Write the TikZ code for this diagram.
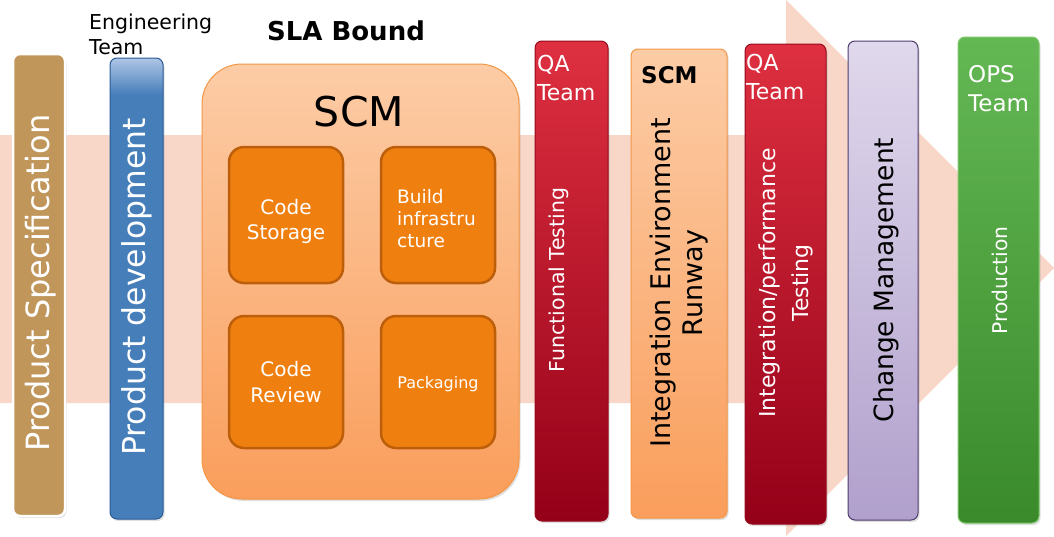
\documentclass[tikz,border=0pt]{standalone}
\usepackage{fontspec}
\setmainfont{DejaVu Sans}
\usepackage{xcolor}
\usepackage{tikz}
\usetikzlibrary{shadows,positioning}
\definecolor{flowpeach}{RGB}{248,214,200}
\definecolor{spectan}{RGB}{192,150,90}
\definecolor{devblue}{RGB}{70,126,186}
\definecolor{devlight}{RGB}{175,198,230}
\definecolor{devline}{RGB}{40,90,150}
\definecolor{scmtop}{RGB}{252,204,166}
\definecolor{scmbot}{RGB}{250,158,92}
\definecolor{scmline}{RGB}{244,150,70}
\definecolor{tilefill}{RGB}{239,128,16}
\definecolor{tileline}{RGB}{188,94,10}
\definecolor{qatop}{RGB}{222,48,64}
\definecolor{qabot}{RGB}{148,0,24}
\definecolor{qaline}{RGB}{150,10,30}
\definecolor{chgtop}{RGB}{224,216,236}
\definecolor{chgbot}{RGB}{176,160,204}
\definecolor{chgline}{RGB}{80,60,110}
\definecolor{opstop}{RGB}{100,184,84}
\definecolor{opsbot}{RGB}{58,138,44}
\definecolor{opsline}{RGB}{125,200,105}
\pgfdeclareverticalshading{devshade}{100bp}{color(0bp)=(devblue); color(25bp)=(devblue); color(71bp)=(devblue); color(75bp)=(devlight); color(100bp)=(devlight)}

\begin{document}
\begin{tikzpicture}[x=1pt,y=-1pt,
    stage/.style={rounded corners=7pt, draw, line width=1pt, inner sep=0pt, drop shadow={opacity=0.25,shadow xshift=1.5pt,shadow yshift=-2pt}},
    tile/.style={rounded corners=15pt, fill=tilefill, draw=tileline, line width=2.5pt, minimum width=114pt, inner sep=0pt},
    lbl/.style={inner sep=0pt, text=white}]
    \useasboundingbox (0,0) rectangle (1054,536);
    \fill[flowpeach] (0,135) -- (786,135) -- (786,0) -- (1054,268) -- (786,536) -- (786,403) -- (0,403) -- cycle;
    \node (spec) at (39,285) [stage, fill=spectan, draw=white, line width=2.5pt, minimum width=52pt, minimum height=462pt] {};
    \node (dev) at (136.5,288.5) [stage, shading=devshade, draw=devline, minimum width=53pt, minimum height=461pt] {};
    \node (scm) at (360.5,281.5) [stage, rounded corners=40pt, top color=scmtop, bottom color=scmbot, draw=scmline, minimum width=317pt, minimum height=435pt] {};
    \node (store) at (286,215) [tile, minimum height=136pt] {};
    \node (build) at (438,215) [tile, minimum height=136pt] {};
    \node (review) at (286,382) [tile, minimum height=132pt] {};
    \node (pack) at (438,382) [tile, minimum height=132pt] {};
    \node (func) at (571.5,281) [stage, top color=qatop, bottom color=qabot, draw=qaline, minimum width=73pt, minimum height=480pt] {};
    \node (runway) at (679,283.5) [stage, top color=scmtop, bottom color=scmbot, draw=scmline, minimum width=96pt, minimum height=469pt] {};
    \node (perf) at (785.5,284) [stage, top color=qatop, bottom color=qabot, draw=qaline, minimum width=81pt, minimum height=480pt] {};
    \node (change) at (883,280.5) [stage, top color=chgtop, bottom color=chgbot, draw=chgline, minimum width=70pt, minimum height=479pt] {};
    \node (prod) at (998.5,280) [stage, top color=opstop, bottom color=opsbot, draw=opsline, minimum width=81pt, minimum height=486pt] {};
    \node (eng) at (89,14) [anchor=north west, inner sep=0pt, align=left, font=\fontsize{20.5}{25}\selectfont] {Engineering\\Team};
    \node (sla) at (346,40) [anchor=base, font=\bfseries\fontsize{26}{31}\selectfont] {SLA Bound};
    \node (scmtitle) at (359,126) [anchor=base, font=\fontsize{41}{49}\selectfont] {SCM};
    \node (speclbl) at (49,283) [lbl, rotate=90, anchor=base, font=\fontsize{32}{38}\selectfont] {Product Specification};
    \node (devlbl) at (145,287) [lbl, rotate=90, anchor=base, font=\fontsize{31.5}{38}\selectfont] {Product development};
    \node (storelbl) at (286,221) [lbl, align=center, font=\fontsize{20}{25}\selectfont] {Code\\Storage};
    \node (buildlbl) at (397,189) [lbl, anchor=north west, align=left, font=\fontsize{18.5}{22}\selectfont] {Build\\infrastru\\cture};
    \node (reviewlbl) at (286,382) [lbl, align=center, font=\fontsize{20}{26}\selectfont] {Code\\Review};
    \node (packlbl) at (438,388) [lbl, anchor=base, font=\fontsize{16}{19}\selectfont] {Packaging};
    \node (qa1) at (537,55) [lbl, anchor=north west, align=left, font=\fontsize{22}{28.5}\selectfont] {QA\\Team};
    \node (funclbl) at (564,280) [lbl, rotate=90, anchor=base, font=\fontsize{20.5}{25}\selectfont] {Functional Testing};
    \node (scmtag) at (641,83) [anchor=base west, inner sep=0pt, font=\bfseries\fontsize{23}{28}\selectfont] {SCM};
    \node (runwaylbl) at (679,283) [rotate=90, inner sep=0pt, align=center, font=\fontsize{27}{32}\selectfont] {Integration Environment\\Runway};
    \node (qa2) at (746,54) [lbl, anchor=north west, align=left, font=\fontsize{22}{28.5}\selectfont] {QA\\Team};
    \node (perflbl) at (786,283) [lbl, rotate=90, align=center, font=\fontsize{22}{32.5}\selectfont] {Integration/performance\\Testing};
    \node (changelbl) at (893,280) [rotate=90, anchor=base, inner sep=0pt, font=\fontsize{26.5}{32}\selectfont] {Change Management};
    \node (ops) at (968,65) [lbl, anchor=north west, align=left, font=\fontsize{23}{29.6}\selectfont] {OPS\\Team};
    \node (prodlbl) at (1007,280.5) [lbl, rotate=90, anchor=base, font=\fontsize{20.3}{24}\selectfont] {Production};
\end{tikzpicture}
\end{document}
